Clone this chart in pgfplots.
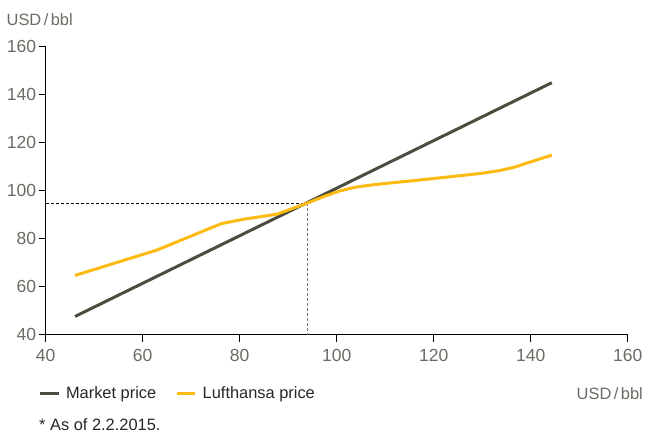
\documentclass[border=0pt]{standalone}
\usepackage{pgfplots}
\pgfplotsset{compat=1.18}
\usepackage{fontspec}
\setmainfont{Liberation Sans}
\definecolor{market}{HTML}{4B4D3F}
\definecolor{lh}{HTML}{FDBA12}
\definecolor{txt}{HTML}{6B6B63}
\begin{document}
\begin{tikzpicture}[x=1pt,y=1pt]
\useasboundingbox (0,0) rectangle (646,434);
\begin{axis}[
  at={(45.7pt,99.3pt)}, anchor=south west,
  width=582pt, height=288pt, scale only axis,
  xmin=40, xmax=160, ymin=40, ymax=160,
  xtick={40,60,...,160}, ytick={40,60,...,160},
  axis x line*=bottom, axis y line*=left,
  axis line style={-, line width=1.2pt, black},
  tick align=outside, major tick length=7pt,
  tick style={black, line width=1.2pt},
  /pgf/number format/assume math mode=true,
  ticklabel style={font=\fontsize{17.5}{20}\selectfont, text=txt},
  xticklabel style={yshift=-4pt},
  yticklabel style={xshift=1pt},
  legend style={at={(-0.0127,-0.2035)}, anchor=west, draw=none, fill=none,
     inner sep=0pt, font=\fontsize{16.4}{19}\selectfont, text=black!85,
     /tikz/every odd column/.append style={column sep=4pt},
     /tikz/every even column/.append style={column sep=17pt}},
  legend columns=2, legend cell align=left,
  legend image code/.code={\draw[#1] (0pt,0pt)--(18.5pt,0pt);},
  clip=false,
]
\addplot[black, line width=0.9pt, dash pattern=on 3pt off 2pt, forget plot] coordinates {(40,94.8) (94.05,94.8)};
\addplot[black!55, line width=1.2pt, dash pattern=on 3pt off 2pt, forget plot] coordinates {(94.05,94.8) (94.05,40)};
\addplot[market, line width=3pt] coordinates {(46.05,47.6) (144.35,145)};
\addlegendentry{Market price}
\addplot[lh, line width=3pt, line join=round] coordinates {
(46.05,64.7) (62.85,75.2) (76.25,86.3) (80.75,88.1) (87.65,90.2) (94.15,95) (97.65,97.8) (100.65,99.9) (103.65,101.4) (107.65,102.5) (119.65,105) (129.65,107.2) (133.65,108.4) (136.65,109.8) (139.65,111.8) (144.35,114.8)};
\addlegendentry{Lufthansa price}
\end{axis}
\node[anchor=base west, inner sep=0pt, text=txt, font=\fontsize{16.4}{19}\selectfont] at (6.5,408) {USD\kern2.5pt/\kern2.5pt bbl};
\node[anchor=base east, inner sep=0pt, text=txt, font=\fontsize{16.4}{19}\selectfont] at (643,34) {USD\kern2.5pt/\kern2.5pt bbl};
\node[anchor=base west, inner sep=0pt, text=black!85, font=\fontsize{16.4}{19}\selectfont] at (39,3) {* As of 2.2.2015.};
\end{tikzpicture}
\end{document}
